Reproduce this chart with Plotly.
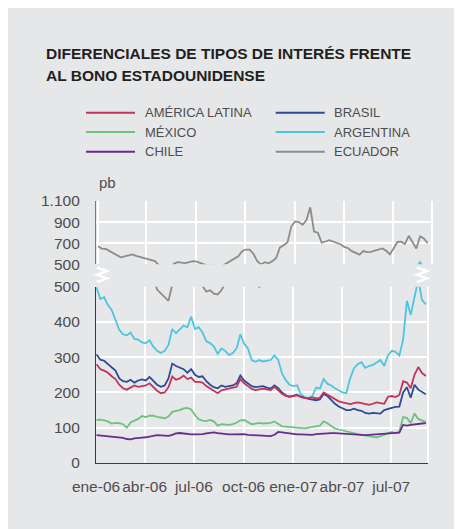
import pandas as pd
import plotly.graph_objects as go

# ---------------- data (weekly) ----------------
dates = pd.date_range("2006-01-02", periods=88, freq="7D")

america_latina = [280, 266, 262, 256, 246, 238, 222, 212, 208, 214, 220, 216, 218, 220, 226, 215, 205, 198, 200, 215,
                  245, 236, 240, 248, 238, 242, 230, 230, 228, 218, 212, 205, 198, 206, 208, 211, 212, 216, 238, 226,
                  218, 210, 207, 209, 211, 209, 207, 216, 205, 196, 190, 188, 190, 192, 187, 184, 184, 186, 183, 185,
                  200, 194, 186, 180, 175, 172, 169, 167, 170, 172, 170, 168, 165, 168, 172, 170, 168, 188, 190, 187,
                  193, 232, 228, 212, 250, 272, 255, 247]
brasil = [308, 293, 290, 280, 272, 262, 240, 232, 230, 236, 228, 234, 237, 234, 244, 234, 222, 216, 220, 240,
          282, 275, 270, 266, 256, 266, 250, 244, 246, 232, 222, 215, 212, 220, 216, 218, 220, 226, 248, 234,
          227, 218, 215, 216, 218, 214, 211, 220, 212, 200, 192, 188, 192, 194, 188, 184, 182, 180, 178, 180,
          196, 190, 178, 168, 160, 154, 150, 150, 154, 150, 148, 142, 140, 142, 141, 140, 150, 152, 156, 159,
          160, 200, 215, 185, 222, 208, 202, 195]
mexico = [122, 123, 121, 118, 112, 114, 113, 110, 100, 115, 120, 125, 133, 130, 134, 134, 131, 130, 127, 132,
          145, 148, 150, 155, 156, 152, 136, 124, 120, 119, 122, 118, 106, 110, 109, 108, 110, 114, 121, 122,
          116, 110, 112, 114, 112, 113, 114, 118, 112, 104, 103, 102, 102, 101, 100, 98, 100, 102, 104, 106,
          118, 113, 105, 98, 95, 92, 89, 86, 84, 82, 80, 77, 76, 74, 73, 76, 80, 86, 88, 85,
          90, 130, 128, 113, 140, 125, 120, 116]
argentina = [498, 465, 470, 448, 434, 405, 378, 365, 362, 370, 352, 350, 342, 340, 348, 330, 318, 312, 318, 335,
             380, 368, 378, 390, 385, 415, 380, 385, 370, 345, 340, 330, 310, 325, 318, 306, 312, 325, 365, 338,
             325, 292, 287, 292, 288, 290, 292, 305, 292, 254, 235, 222, 218, 220, 195, 186, 184, 190, 214, 211,
             238, 225, 220, 212, 205, 200, 198, 240, 268, 280, 286, 270, 275, 278, 285, 292, 275, 305, 318, 315,
             305, 350, 460, 420, 470, 520, 462, 450]
chile = [79, 78, 77, 77, 76, 75, 73, 71, 68, 67, 70, 72, 72, 73, 74, 77, 79, 79, 78, 77,
         80, 84, 85, 83, 82, 81, 81, 81, 82, 84, 86, 87, 85, 83, 82, 81, 81, 82, 83, 82,
         80, 79, 79, 79, 78, 77, 76, 80, 88, 87, 85, 83, 82, 81, 81, 80, 79, 80, 82, 83,
         85, 85, 85, 85, 84, 83, 82, 82, 81, 80, 79, 79, 80, 81, 82, 82, 83, 83, 84, 85,
         86, 108, 106, 108, 110, 110, 112, 113]
ecuador = [670, 648, 645, 625, 612, 590, 566, 575, 585, 594, 580, 570, 560, 552, 540, 530, 492, 482, 470, 460,
           505, 520, 515, 512, 520, 530, 525, 510, 502, 486, 490, 480, 478, 490, 510, 532, 548, 575, 625, 640,
           640, 600, 530, 498, 520, 510, 530, 560, 660, 680, 710, 860, 906, 900, 874, 920, 1040, 810, 800, 705,
           716, 728, 716, 705, 690, 665, 652, 625, 605, 592, 625, 615, 618, 628, 640, 650, 630, 595, 650, 712,
           715, 692, 770, 712, 650, 765, 745, 700]

series_names = ["AMÉRICA LATINA", "BRASIL", "MÉXICO", "ARGENTINA", "CHILE", "ECUADOR"]
series_values = [america_latina, brasil, mexico, argentina, chile, ecuador]
series_colors = ["#c2355a", "#2d4a9b", "#6cc47c", "#4bc6e2", "#6b2a8e", "#8c8c8c"]

x_tickvals = ["2006-01-01", "2006-04-01", "2006-07-01", "2006-10-01", "2007-01-01", "2007-04-01", "2007-07-01"]
x_ticktext = ["ene-06", "abr-06", "jul-06", "oct-06", "ene-07", "abr-07", "jul-07"]
low_ticks = [0, 100, 200, 300, 400, 500]
low_ticktext = ["0", "100", "200", "300", "400", "500"]
up_ticks = [500, 700, 900, 1100]
up_ticktext = ["500", "700", "900", "1.100"]

# ---------------- layout helpers (screen pixel -> paper) ----------------
OFF = 8  # page body margin
W, H = 462, 529
L, R, T, B = 96 - OFF, 432 - OFF, 201 - OFF, 463 - OFF
def px(x):
    return (x - OFF - L) / (R - L)
def py(y):
    return (B - (y - OFF)) / (B - T)

BG = "#e6e7e8"
FONT = "Liberation Sans, Arial, sans-serif"
TXT = "#4d4d4f"

fig = go.Figure()

# lower panel: all series
order = [5, 3, 1, 0, 2, 4]
for k in order:
    fig.add_trace(go.Scatter(x=dates, y=series_values[k], name=series_names[k], mode="lines",
                             line=dict(color=series_colors[k], width=1.8),
                             xaxis="x", yaxis="y", showlegend=False))
# upper panel: series that reach above 500
for k in [5, 3]:
    fig.add_trace(go.Scatter(x=dates, y=series_values[k], name=series_names[k], mode="lines",
                             line=dict(color=series_colors[k], width=1.8),
                             xaxis="x2", yaxis="y2", showlegend=False))

tickfont = dict(family=FONT, size=15.5, color=TXT)

shapes = []
low_top = py(286.7)
up_bot = py(264.3)
# right edges of panels (white)
shapes.append(dict(type="line", xref="paper", yref="paper", x0=px(428), x1=px(428), y0=0, y1=low_top,
                   line=dict(color="white", width=2), layer="below"))
shapes.append(dict(type="line", xref="paper", yref="paper", x0=1, x1=1, y0=up_bot, y1=1,
                   line=dict(color="white", width=2), layer="below"))

# break symbols (white zigzags)
def zigzag(x0, x1, y0, y1, n=4):
    pts = []
    for i in range(n + 1):
        yy = y0 + (y1 - y0) * i / n
        xx = x0 if i % 2 == 0 else x1
        pts.append((px(xx), py(yy)))
    return "M " + " L ".join(f"{a:.5f},{b:.5f}" for a, b in pts)

for (xa, xb) in [(97, 107), (417, 427)]:
    shapes.append(dict(type="path", xref="paper", yref="paper", path=zigzag(xa, xb, 267.5, 282),
                       line=dict(color="white", width=2.5), layer="above"))

annotations = []
# title
annotations.append(dict(text="<b>DIFERENCIALES DE TIPOS DE INTERÉS FRENTE</b>", xref="paper", yref="paper",
                        x=px(44), y=py(53.5), xanchor="left", yanchor="middle", showarrow=False,
                        font=dict(family=FONT, size=15.5, color="#231f20")))
annotations.append(dict(text="<b>AL BONO ESTADOUNIDENSE</b>", xref="paper", yref="paper",
                        x=px(44), y=py(76), xanchor="left", yanchor="middle", showarrow=False,
                        font=dict(family=FONT, size=15.5, color="#231f20")))
# legend (manual, 2 columns)
leg_pos = [(86, 112.7), (275.7, 112.7), (86, 132), (275.7, 132), (86, 151.7), (275.7, 151.7)]
for k, (lx, ly) in enumerate(leg_pos):
    shapes.append(dict(type="line", xref="paper", yref="paper", x0=px(lx), x1=px(lx + 49), y0=py(ly), y1=py(ly),
                       line=dict(color=series_colors[k], width=2)))
    annotations.append(dict(text=series_names[k], xref="paper", yref="paper", x=px(lx + 56.5), y=py(ly),
                            xanchor="left", yanchor="middle", showarrow=False,
                            font=dict(family=FONT, size=13, color=TXT)))
# unit
annotations.append(dict(text="pb", xref="paper", yref="paper", x=px(97), y=py(182), xanchor="left",
                        yanchor="middle", showarrow=False, font=dict(family=FONT, size=15, color=TXT)))

fig.update_layout(
    width=W, height=H,
    margin=dict(l=L, r=W - R, t=T, b=H - B, pad=0),
    paper_bgcolor=BG, plot_bgcolor=BG,
    showlegend=False,
    shapes=shapes, annotations=annotations,
    xaxis=dict(domain=[0, px(428)], range=["2006-01-01", "2007-09-07"], anchor="y",
               tickvals=x_tickvals, ticktext=x_ticktext, tickfont=tickfont, ticks="",
               ticklabelstandoff=9,
               showgrid=True, gridcolor="white", gridwidth=2, zeroline=False,
               showline=True, linecolor="#3b3b3d", linewidth=1.2),
    yaxis=dict(domain=[0, low_top], range=[0, 500], anchor="x",
               tickvals=low_ticks, ticktext=low_ticktext, tickfont=tickfont, ticks="",
               ticklabelstandoff=12,
               showgrid=True, gridcolor="white", gridwidth=2, zeroline=False,
               showline=True, linecolor="#3b3b3d", linewidth=1.2),
    xaxis2=dict(domain=[0, 1], range=["2005-12-29", "2007-09-11"], anchor="y2",
                tickvals=x_tickvals, showticklabels=False, ticks="",
                showgrid=True, gridcolor="white", gridwidth=2, zeroline=False, showline=False),
    yaxis2=dict(domain=[up_bot, 1], range=[500, 1100], anchor="x2",
                tickvals=up_ticks, ticktext=up_ticktext, tickfont=tickfont, ticks="",
                ticklabelstandoff=12,
                showgrid=True, gridcolor="white", gridwidth=2, zeroline=False,
                showline=True, linecolor="#7a7a7c", linewidth=1.2),
)

fig.write_html("out.html")
